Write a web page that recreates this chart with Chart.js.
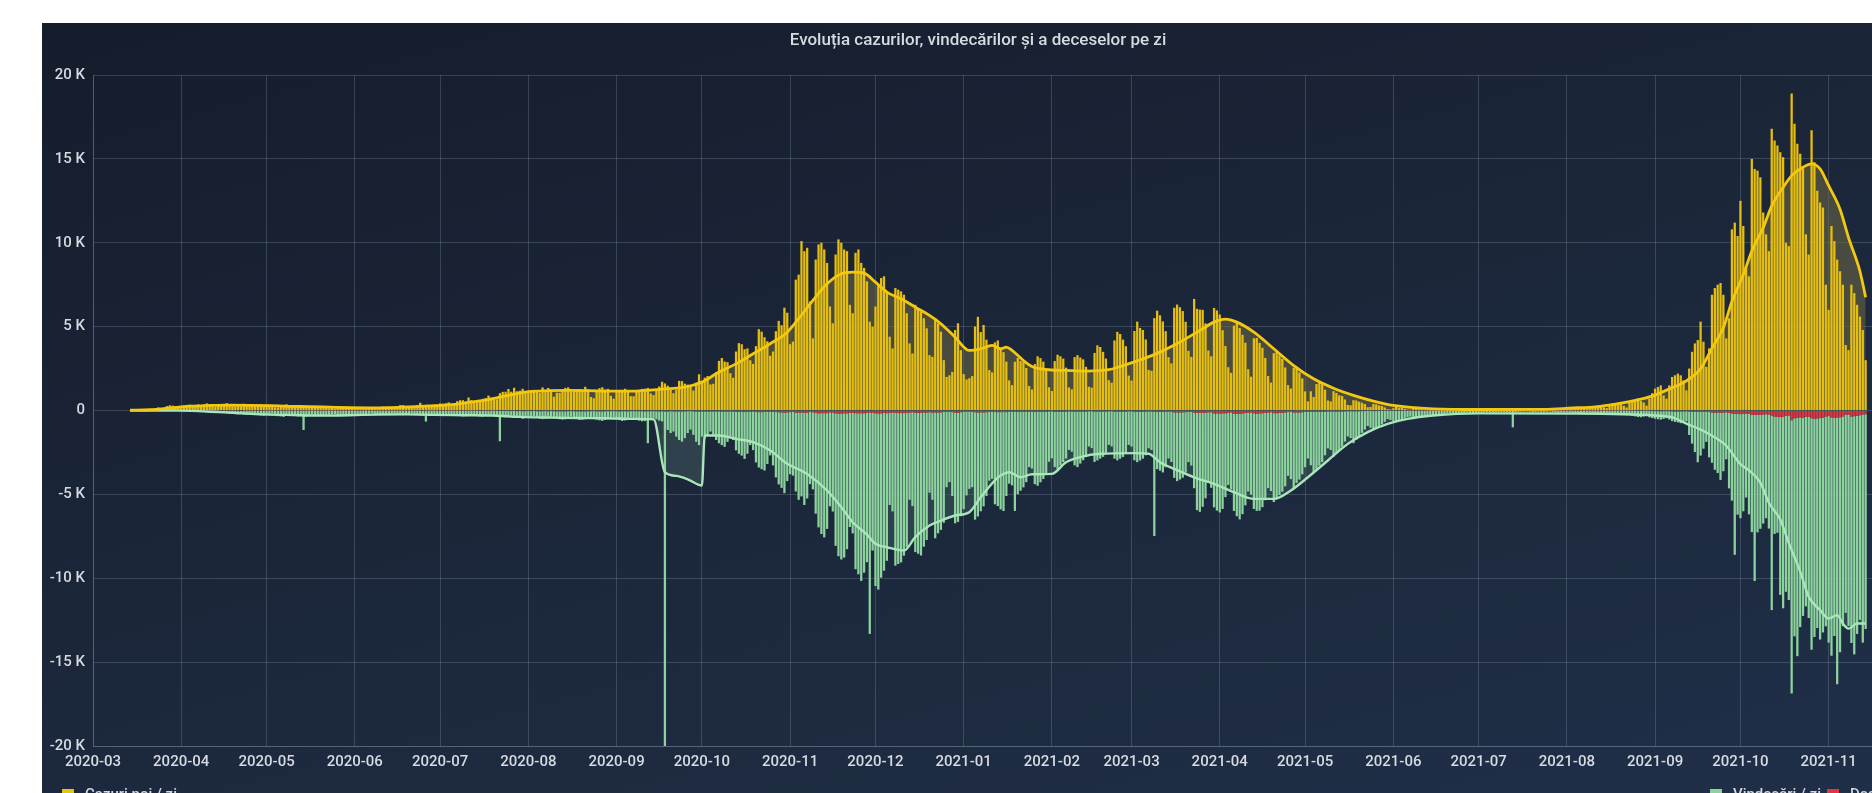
<!DOCTYPE html>
<html lang="ro">
<head>
<meta charset="utf-8">
<title>Evoluția cazurilor, vindecărilor și a deceselor pe zi</title>
<script src="https://cdn.jsdelivr.net/npm/chart.js@4.4.1/dist/chart.umd.min.js"></script>
<style>
  html, body { margin: 0; padding: 0; width: 1872px; height: 793px; overflow: hidden; background: #ffffff; }
  #panel { position: absolute; left: 42px; top: 23px; width: 1900px; height: 820px;
           background: linear-gradient(165deg, #151d2c 0%, #1b2639 45%, #20304a 100%); }
  #wrap { position: absolute; left: 0; top: 0; width: 1872px; height: 800px; }
  .leg { position: absolute; top: 785px; font: 500 15px Roboto, 'Liberation Sans', Arial, sans-serif; color: #d3d7de; white-space: nowrap; }
  .leg i { position: absolute; left: 0; top: 4px; width: 12px; height: 10px; }
  .leg span { position: absolute; left: 23px; top: 0; }
</style>
</head>
<body>
<div id="panel"><div id="wrap"><canvas id="chart"></canvas></div></div>
<div class="leg" style="left:62px"><i style="background:#e9c20e"></i><span>Cazuri noi / zi</span></div>
<div class="leg" style="left:1710px"><i style="background:#8dd39e"></i><span>Vindecări / zi</span></div>
<div class="leg" style="left:1827px"><i style="background:#e3343f"></i><span>Decese / zi</span></div>
<script>
// ---------------- DATA ----------------
const titleText = 'Evoluția cazurilor, vindecărilor și a deceselor pe zi';
const axisStartDate = '2020-03-01';   // x value 0
const axisEndDate = '2021-12-01';
const firstDataDate = '2020-03-14';   // first daily value below

const xTickLabels = ['2020-03','2020-04','2020-05','2020-06','2020-07','2020-08','2020-09','2020-10','2020-11','2020-12',
  '2021-01','2021-02','2021-03','2021-04','2021-05','2021-06','2021-07','2021-08','2021-09','2021-10','2021-11'];
const yTickValues = [-20000,-15000,-10000,-5000,0,5000,10000,15000,20000];
const yTickLabels = ['-20 K','-15 K','-10 K','-5 K','0','5 K','10 K','15 K','20 K'];

// New cases per day, from 2020-03-14 to 2021-11-14
const cases = [
  19,37,29,26,40,31,31,59,66,143,186,144,123,263,308,293,263,192,
  254,308,336,347,261,220,363,270,360,423,326,304,218,308,331,395,441,289,260,255,250,245,397,308,321,279,260,279,342,306,
  327,283,216,190,187,275,231,370,313,228,198,219,179,267,202,158,187,190,156,221,145,167,130,148,101,145,191,190,230,154,113,
  138,155,150,211,179,192,116,104,144,183,230,216,220,191,179,214,324,320,268,250,271,255,325,460,320,330,234,320,210,263,
  421,409,433,486,317,339,555,614,615,521,777,616,572,462,627,698,744,889,767,657,663,1030,1112,1119,1284,1120,1356,1151,1182,1295,1104,
  1104,1105,1150,1103,1046,1378,1215,1345,1189,822,1064,1055,1220,1350,1378,1139,1144,1232,1276,1204,1409,1256,808,730,1169,1332,1385,1250,1291,875,702,
  1105,1215,1219,1298,1167,855,848,1136,1187,1289,1303,1347,1018,920,1207,1431,1713,1616,1481,1222,1030,1231,1767,1752,1600,1545,1412,1191,1657,2158,
  1659,1958,2052,1555,1591,2283,2958,3130,2919,2880,2222,1950,3517,4016,3952,3652,3702,2997,2778,3837,4848,4702,4367,4128,3262,3517,4725,5343,5080,6129,5828,
  3954,4106,7800,8100,10100,9500,9700,6500,4300,9000,9900,10000,9600,8800,6200,5200,9300,10200,10000,9600,9500,6300,5800,9400,9600,8800,8500,7700,5300,5000,
  6200,7500,7900,8000,7100,4400,3700,7300,7200,7100,6900,5800,4000,3400,6300,6000,5900,5500,4900,3300,3200,5500,5200,4700,3000,2000,2100,2300,4800,5200,3600,
  2169,1852,1924,2051,5007,5585,4674,5099,4223,2409,2275,4061,4174,3720,3479,2913,1795,1512,2906,3130,2949,2883,2533,1460,1256,2767,3229,3121,2912,2485,1389,
  1160,2946,3324,3230,3092,2555,1376,1262,3180,3299,3158,3047,2603,1416,1365,3432,3887,3786,3496,3097,1809,1656,4177,4687,4559,4225,3831,2082,
  1785,4742,5300,4922,4800,4237,2422,2370,5510,5951,5677,5311,4730,3176,2806,6125,6316,6157,5927,5290,3556,3196,6651,6062,6016,6003,5195,3578,3232,6113,5965,
  5723,4787,3847,2581,2243,5059,5281,4921,4513,4042,2461,2013,4307,4320,4027,3737,3134,2060,1664,3417,3516,3294,3080,2566,1512,1314,2544,2611,2264,1914,
  1139,545,1145,807,1575,1711,1557,1241,598,544,1152,1049,906,869,660,330,308,614,597,525,467,389,198,213,386,367,306,269,185,91,61,
  131,219,144,147,104,57,43,104,109,74,84,53,26,21,61,80,54,39,28,13,18,38,42,43,33,20,15,22,45,36,
  47,40,41,15,28,48,59,55,45,37,23,34,59,77,71,67,53,28,56,82,69,98,106,67,45,71,122,130,136,110,97,
  63,113,185,215,220,198,146,98,194,258,240,303,268,184,141,282,423,429,399,385,282,181,450,615,621,720,566,478,289,694,1036,
  1300,1400,1500,900,700,1500,2000,2100,2200,2100,1800,1200,2500,3500,4000,4200,5300,4100,2600,3700,6900,7300,7500,7600,6900,4300,5500,10800,11200,10400,
  12500,11000,8500,8000,15000,14400,14300,13900,11800,10500,9500,16800,16100,15800,15400,15100,10000,9800,18900,17100,15900,15300,14500,10500,9300,16700,14800,13100,12400,12100,7500,
  6000,11000,10100,9000,8300,7500,3900,3600,7500,7000,6300,5600,4800,3000
];

// Recoveries per day (count; drawn below the axis), same dates
const recovered = [
  0,0,2,0,0,0,6,2,5,3,5,1,7,10,14,6,8,10,
  18,20,15,35,40,39,28,51,59,74,60,47,53,93,82,120,127,160,113,163,170,115,223,253,250,188,231,254,280,302,
  220,210,180,250,320,340,370,260,210,240,280,340,320,1150,330,300,220,260,330,300,280,230,250,210,200,260,300,270,250,230,190,
  230,250,260,290,220,180,150,210,230,240,250,230,200,180,190,220,250,260,230,200,170,230,250,280,300,640,300,250,220,280,
  300,320,280,260,240,200,280,300,330,320,250,230,270,300,330,350,300,260,230,280,310,1800,350,380,340,260,300,380,420,450,400,
  380,330,320,400,450,480,470,430,360,350,420,480,500,470,400,330,380,460,520,510,470,400,350,420,500,540,560,520,480,400,380,
  450,520,580,550,480,400,420,500,560,600,580,1900,450,400,480,550,600,45000,1100,1300,1200,1500,1700,1800,1600,1300,1100,1400,1800,2000,
  1500,1600,1400,1200,1400,1700,1900,2000,2100,1800,1500,1700,2300,2500,2600,2800,2500,2000,2300,3000,3300,3400,3500,3100,2600,3200,3900,4300,4500,4800,4100,
  3700,3800,4700,5200,5000,5500,5100,4300,4600,6000,6800,7200,7400,6900,5600,5900,7900,8500,8700,8600,8100,6800,7200,9300,9600,10000,9500,8900,13200,8200,
  10300,10500,9800,9400,8800,5500,5900,9100,9000,8900,8500,8000,5200,5600,8300,8400,8500,8000,7600,4800,5200,7500,7200,7000,6600,4500,4200,5000,6600,6500,6200,
  5800,5000,4600,4500,6400,6200,5900,5600,5000,4100,4000,5500,5600,5800,5900,5000,4300,4400,5900,4900,4700,4500,4200,3300,3400,4300,4400,4200,4000,3700,3000,
  2800,3300,3400,3200,3000,2800,2300,2400,3200,3300,3100,2900,2700,2100,2200,3000,2900,2800,2700,2500,2000,2100,2800,2900,2800,2700,2500,2000,
  2100,2900,3000,2900,2800,2600,2200,2300,7400,3400,3500,3600,3300,2800,3000,3900,4100,4000,3900,3600,3000,3200,4500,5800,5900,5600,5100,4200,4500,5600,5800,
  5900,5700,5000,4300,4600,5800,6100,6300,6000,5500,4700,4900,5700,5800,5800,5600,5200,4500,4700,5300,5100,4900,4700,4400,3800,4000,4500,4200,4000,3700,
  3300,2800,3200,3600,3400,3200,3000,2600,2200,2300,2700,2500,2300,2100,1800,1500,1600,1900,1700,1500,1300,1100,900,1000,1100,1000,900,800,650,500,550,
  600,650,550,500,450,380,350,420,400,370,330,300,260,250,300,280,250,230,200,170,160,190,180,170,160,140,120,140,150,130,
  120,110,100,90,100,110,100,90,80,90,100,95,1000,90,80,70,65,60,70,80,75,70,75,80,70,60,80,90,100,95,85,
  80,90,110,120,130,140,130,110,120,140,160,170,180,160,140,170,200,220,240,250,230,200,250,300,330,360,380,340,300,380,420,
  450,480,500,460,420,500,580,620,650,700,680,600,1400,1900,2400,3000,2600,2200,1800,2700,3000,3400,3600,4000,3500,2800,4500,5200,8400,6000,
  6200,5800,5000,6000,7000,9900,7000,6800,6500,6200,6800,11600,7000,6900,10600,11400,10500,11000,16300,13000,14200,12500,11800,11300,12000,13800,13000,12500,13200,12800,12500,
  13500,14200,13000,15900,14000,12500,11800,12600,13500,14200,13000,12200,13600,12800
];

// Deaths per day (count; drawn below the axis), same dates
const deaths = [
  0,0,0,0,0,0,0,1,2,1,3,2,3,6,8,11,18,17,
  15,20,18,21,12,25,24,17,21,18,20,15,20,25,28,20,18,26,17,20,28,30,21,17,14,18,19,22,19,15,
  15,17,12,15,20,14,14,12,11,18,13,14,17,12,19,11,9,12,10,15,11,11,9,10,8,10,14,6,7,10,8,
  6,9,13,11,8,11,7,10,8,7,12,11,14,8,10,13,11,18,15,13,12,15,14,17,20,21,15,16,13,19,
  18,16,17,13,8,14,15,18,20,22,17,16,14,21,24,20,19,23,17,18,25,31,29,26,30,33,27,40,31,42,36,
  33,38,30,42,45,39,37,44,35,40,50,46,47,56,39,38,43,51,49,47,52,41,42,34,49,47,57,45,39,40,35,
  45,55,42,44,50,38,37,41,43,45,52,48,39,41,44,53,47,55,61,44,51,59,57,53,49,45,37,50,63,67,
  56,55,65,55,58,57,54,67,68,70,54,62,76,82,91,87,77,65,61,93,97,100,80,86,75,73,92,107,111,127,111,
  96,84,125,127,122,131,142,92,103,150,168,162,163,158,113,122,169,187,180,167,167,147,126,160,166,161,168,142,119,148,
  168,175,169,151,159,134,117,151,152,155,154,137,124,101,141,140,145,119,123,102,120,117,123,116,90,73,71,97,123,143,102,
  81,62,70,72,105,120,109,116,102,82,74,93,98,97,92,96,64,65,87,91,82,85,72,68,61,94,88,81,86,78,55,
  49,77,83,78,75,64,50,57,72,76,63,64,60,48,44,66,75,68,63,66,49,42,71,74,73,71,66,48,
  50,73,81,80,71,68,54,57,82,93,87,92,84,63,71,115,111,117,108,98,78,81,133,140,142,139,135,108,106,175,168,
  178,169,164,136,112,187,205,191,178,153,130,121,169,183,171,163,150,128,101,158,162,143,140,120,94,90,125,114,119,104,
  83,62,69,68,85,86,77,70,58,54,59,65,61,56,53,45,41,47,45,42,38,35,25,28,36,32,30,25,24,18,20,
  26,25,22,24,18,15,14,20,18,16,15,12,10,9,14,12,11,10,8,7,6,10,9,8,7,6,5,8,7,6,
  6,5,4,3,5,6,4,5,4,3,2,4,5,4,3,3,2,2,3,4,3,2,3,2,2,3,4,3,4,3,2,
  2,3,4,5,4,3,4,5,6,7,8,6,9,8,7,10,11,13,12,15,14,12,18,20,24,27,25,22,19,30,33,
  38,40,45,42,36,41,53,60,58,55,52,45,62,73,79,86,88,76,69,94,117,133,124,138,121,105,146,175,203,210,
  218,206,187,193,251,266,263,253,240,223,237,299,360,386,391,391,306,300,574,463,445,412,445,377,370,460,500,471,454,430,366,
  335,419,443,421,411,357,264,242,360,340,321,283,238,226
];

// Average lines: day index (days since 2020-03-01) and value
const casesAvgDay = [13,20,27,34,41,48,55,62,69,76,83,90,97,104,111,118,125,132,139,146,153,160,167,174,181,188,195,202,208,214,
  220,226,232,238,244,248,253,258,263,267,271,275,279,284,289,294,298,303,308,312,316,319,321,323,327,330,336,342,349,357,
  362,369,375,382,389,394,398,402,408,415,422,429,436,443,450,457,471,487,510,520,527,537,544,549,554,560,565,569,573,576,
  580,583,587,590,594,597,601,604,607,610,614,617,621,623];
const casesAvg = [20,45,150,260,300,320,310,290,250,230,200,170,160,170,220,270,330,480,650,900,1120,1180,1200,1190,1150,1150,1200,1300,1390,1690,
  2290,2780,3380,3980,4670,5470,6560,7550,8150,8250,8190,7650,7060,6660,6160,5670,5170,4370,3580,3680,3880,3680,3780,3580,2980,2620,2430,2390,2350,2430,
  2680,3080,3480,4080,4770,5270,5450,5270,4670,3680,2680,1890,1330,900,560,300,100,60,70,150,200,440,680,920,1290,1770,2500,3710,4930,6500,
  8100,9500,10900,12200,13300,14000,14500,14700,14400,13400,12000,10300,8300,6750];

const recoveredAvgDay = [13,30,40,50,60,70,80,90,100,110,120,130,140,150,160,170,180,190,197,201,205,209,214,215,220,226,232,238,244,251,
  258,263,267,272,275,279,285,289,294,298,303,308,312,317,319,322,326,330,337,342,347,354,366,371,375,380,387,394,401,408,
  415,421,427,434,441,448,455,462,471,487,520,549,555,560,565,569,574,579,582,586,589,593,596,600,603,607,610,613,615,617,620,623];
const recoveredAvg = [0,10,60,150,230,270,300,280,240,230,260,280,300,380,420,450,460,500,520,3680,3900,4100,4470,1490,1490,1690,1890,2390,3180,3780,
  4770,5770,6660,7400,7950,8150,8350,7550,6860,6560,6260,6060,5170,4170,3880,3680,3980,3800,3780,3080,2780,2580,2540,2580,3080,3480,3980,4370,4870,5270,
  5270,4770,3980,2980,1990,1290,800,500,300,170,180,300,410,780,1140,1500,2100,3200,3570,4300,5500,6500,7900,9600,11100,11900,12400,12200,12700,13000,12700,12700];

// ---------------- CHART ----------------
const DAY = 86400000;
const t0 = Date.parse(axisStartDate + 'T00:00:00Z');
const dayIndex = (s) => Math.round((Date.parse(s + 'T00:00:00Z') - t0) / DAY);
const firstIdx = dayIndex(firstDataDate);
const xMax = dayIndex(axisEndDate);
const monthTickValues = xTickLabels.map(l => dayIndex(l + '-01'));

const gridColor = 'rgba(190,205,225,0.20)';
const textColor = '#d6dae1';
Chart.defaults.font.family = "Roboto, 'Liberation Sans', Arial, sans-serif";

new Chart(document.getElementById('chart'), {
  type: 'bar',
  data: {
    datasets: [
      {
        type: 'line', label: 'Medie cazuri', stack: 'avgCases', order: 0,
        data: casesAvgDay.map((d, i) => ({ x: d, y: casesAvg[i] })),
        borderColor: '#f3c810', borderWidth: 2.8, pointRadius: 0,
        cubicInterpolationMode: 'monotone',
        fill: 'origin', backgroundColor: 'rgba(112,106,70,0.55)'
      },
      {
        type: 'line', label: 'Medie vindecări', stack: 'avgRec', order: 0,
        data: recoveredAvgDay.map((d, i) => ({ x: d, y: -recoveredAvg[i] })),
        borderColor: '#a9e6b9', borderWidth: 2.4, pointRadius: 0,
        cubicInterpolationMode: 'monotone',
        fill: 'origin', backgroundColor: 'rgba(70,100,100,0.45)'
      },
      {
        label: 'Cazuri noi / zi', stack: 'bars', order: 1,
        data: cases.map((v, i) => ({ x: firstIdx + i, y: v })),
        backgroundColor: '#e6bf0e', barPercentage: 1.0, categoryPercentage: 0.8
      },
      {
        label: 'Decese / zi', stack: 'bars', order: 1,
        data: deaths.map((v, i) => ({ x: firstIdx + i, y: -v })),
        backgroundColor: '#e3343f', barPercentage: 1.0, categoryPercentage: 0.8
      },
      {
        label: 'Vindecări / zi', stack: 'bars', order: 1,
        data: recovered.map((v, i) => ({ x: firstIdx + i, y: -v })),
        backgroundColor: '#8dd39e', barPercentage: 1.0, categoryPercentage: 0.8
      }
    ]
  },
  options: {
    responsive: true,
    maintainAspectRatio: false,
    animation: false,
    layout: { padding: { left: 0, right: 0, top: 0, bottom: 47 } },
    plugins: {
      legend: { display: false },
      tooltip: { enabled: false },
      filler: { drawTime: 'beforeDatasetsDraw' },
      title: {
        display: true, text: titleText, color: textColor,
        font: { size: 17, weight: '500' },
        padding: { top: 8, bottom: 23.6 }
      }
    },
    scales: {
      x: {
        type: 'linear', min: 0, max: xMax, stacked: true, offset: false,
        grid: { color: gridColor, drawTicks: false, offset: false },
        border: { color: gridColor },
        ticks: {
          color: textColor, font: { size: 15, weight: '500' }, padding: 7, autoSkip: false, maxRotation: 0,
          callback: (v) => { const k = monthTickValues.indexOf(v); return k >= 0 ? xTickLabels[k] : null; }
        },
        afterBuildTicks: (s) => { s.ticks = monthTickValues.map(v => ({ value: v })); },
        afterFit: (s) => { s.height = 30; }
      },
      y: {
        min: -20000, max: 20000, stacked: true,
        grid: { color: gridColor, drawTicks: false },
        border: { color: gridColor },
        ticks: {
          color: textColor, font: { size: 15, weight: '500' }, padding: 8, stepSize: 5000,
          callback: (v) => { const k = yTickValues.indexOf(v); return k >= 0 ? yTickLabels[k] : null; }
        },
        afterFit: (s) => { s.width = 51; }
      }
    }
  }
});
</script>
</body>
</html>
